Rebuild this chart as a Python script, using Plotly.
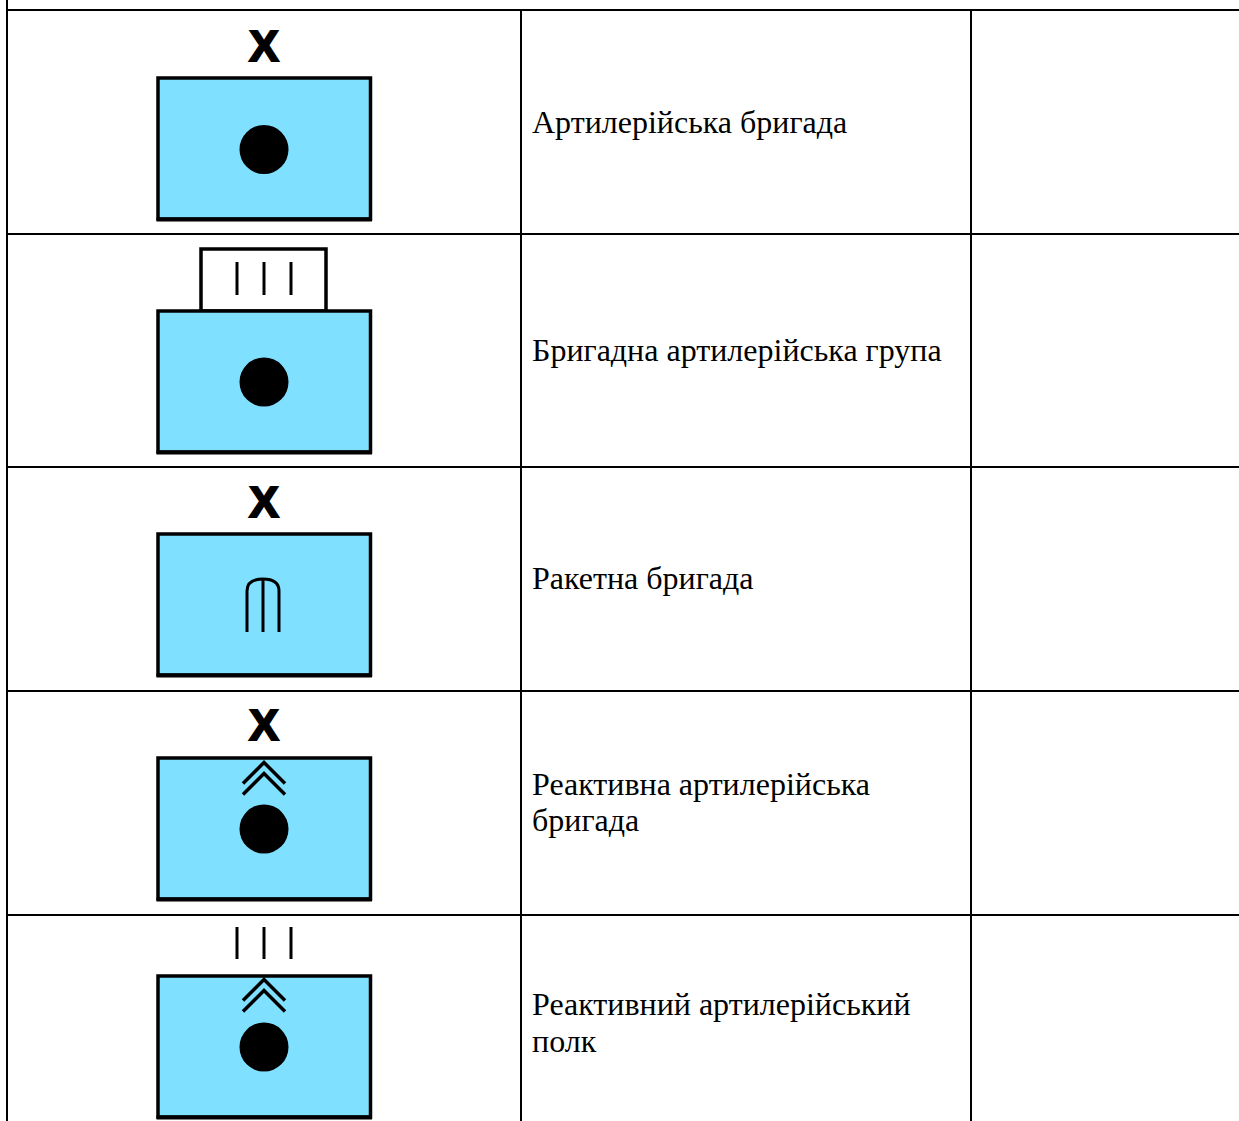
import plotly.graph_objects as go

# table grid
h_lines = [10, 234, 467, 691, 915]
v_lines = [7, 521, 971]
# rows: label lines, box top, circle centre, echelon, chevrons, rocket
labels = [
    ["Артилерійська бригада"],
    ["Бригадна артилерійська група"],
    ["Ракетна бригада"],
    ["Реактивна артилерійська", "бригада"],
    ["Реактивний артилерійський", "полк"],
]
label_y = [[125], [353], [581], [787, 823], [1007, 1044]]
box_top = [78, 311, 534, 758, 976]
box_h = 141
box_left, box_right = 158, 370.5
centre_x = 264
circle_y = [149.5, 382, None, 829, 1047]
circle_r = 24.5
x_mark_y = [50.5, None, 506.5, 729.5, None]
tick_spans = [None, (262, 295), None, None, (927, 959)]
tick_x = [237, 264, 291]
chevron_apex = [None, None, None, (762.5, 773.5), (979.5, 990.5)]
rocket_top, rocket_bottom = 579, 632
rocket_x = [247, 263, 279]
cap_box = (201, 326, 249, 311)

W, H = 1239, 1121
BLUE = "#80E0FF"
fig = go.Figure()
shapes = []


def seg(x0, y0, x1, y1, w=2):
    shapes.append(dict(type="line", xref="x", yref="y", x0=x0, y0=y0, x1=x1, y1=y1,
                       line=dict(color="black", width=w)))


for y in h_lines:
    seg(v_lines[0] - 1, y, W, y)
seg(v_lines[0], 0, v_lines[0], H)
for x in v_lines[1:]:
    seg(x, h_lines[0], x, H)

shapes.append(dict(type="rect", xref="x", yref="y", x0=cap_box[0], x1=cap_box[1], y0=cap_box[2], y1=cap_box[3],
                   fillcolor="white", line=dict(color="black", width=3.5)))

for top in box_top:
    shapes.append(dict(type="rect", xref="x", yref="y", x0=box_left, x1=box_right, y0=top, y1=top + box_h,
                       fillcolor=BLUE, line=dict(color="black", width=3.5)))
    seg(box_left - 1.5, top + box_h + 0.5, box_right + 1.5, top + box_h + 0.5, 4)
for cy in circle_y:
    if cy is not None:
        shapes.append(dict(type="circle", xref="x", yref="y", x0=centre_x - circle_r, x1=centre_x + circle_r,
                           y0=cy - circle_r, y1=cy + circle_r, fillcolor="black", line=dict(width=0)))
for span in tick_spans:
    if span:
        for x in tick_x:
            seg(x, span[0], x, span[1], 3)
for apex in chevron_apex:
    if apex:
        for a in apex:
            shapes.append(dict(type="path", xref="x", yref="y",
                               path=f"M {centre_x-21},{a+21} L {centre_x},{a} L {centre_x+21},{a+21}",
                               line=dict(color="black", width=3.5)))
# rocket glyph
shapes.append(dict(type="path", xref="x", yref="y",
                   path=f"M {rocket_x[0]},{rocket_bottom} L {rocket_x[0]},{rocket_top+12} "
                        f"Q {rocket_x[0]},{rocket_top} {rocket_x[1]},{rocket_top} "
                        f"Q {rocket_x[2]},{rocket_top} {rocket_x[2]},{rocket_top+12} L {rocket_x[2]},{rocket_bottom}",
                   line=dict(color="black", width=3)))
seg(rocket_x[1], rocket_top, rocket_x[1], rocket_bottom, 3)

# text labels
tx, ty, tt = [], [], []
for lines, ys in zip(labels, label_y):
    for line, y in zip(lines, ys):
        tx.append(532)
        ty.append(y)
        tt.append(line)
fig.add_trace(go.Scatter(x=tx, y=ty, text=tt, mode="text", textposition="middle right",
                         textfont=dict(family="Liberation Serif", size=32, color="black"),
                         hoverinfo="skip", showlegend=False))
xm = [y for y in x_mark_y if y is not None]
fig.add_trace(go.Scatter(x=[centre_x] * len(xm), y=xm, text=["X"] * len(xm), mode="text",
                         textposition="middle center",
                         textfont=dict(family="Liberation Sans", size=47, color="black", weight="bold",
                                       shadow="1px 0 0 black, -1px 0 0 black"),
                         hoverinfo="skip", showlegend=False))

fig.update_layout(width=W, height=H, margin=dict(l=0, r=0, t=0, b=0), paper_bgcolor="white",
                  plot_bgcolor="white", shapes=shapes, showlegend=False,
                  xaxis=dict(range=[0, W], visible=False, fixedrange=True),
                  yaxis=dict(range=[H, 0], visible=False, fixedrange=True))
fig.write_html("out.html", config={"displayModeBar": False},
               post_script="document.body.style.margin='0';")
